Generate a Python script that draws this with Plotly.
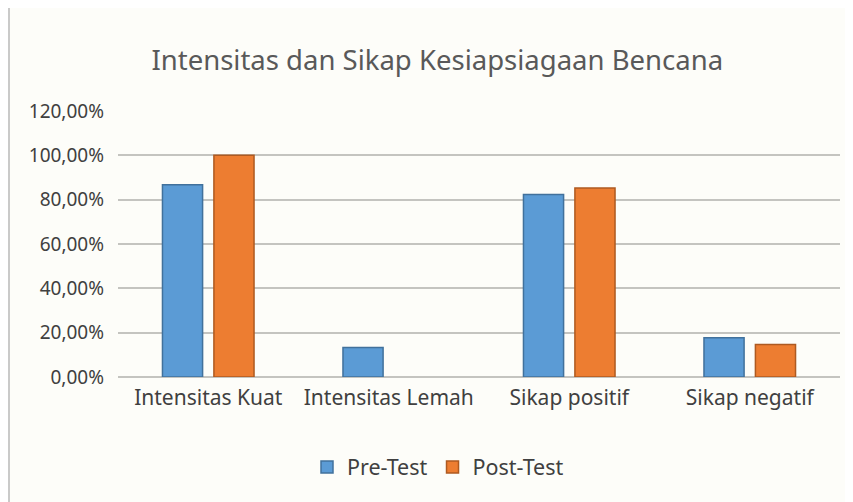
import plotly.graph_objects as go

categories = ["Intensitas Kuat", "Intensitas Lemah", "Sikap positif", "Sikap negatif"]
pre_test = [0.867, 0.133, 0.823, 0.177]
post_test = [1.0, 0.0, 0.853, 0.147]
y_ticks = [0, 0.2, 0.4, 0.6, 0.8, 1.0, 1.2]

W, H = 845, 494
L, R, T, B = 110, 13, 103, 125
pw, ph = W - L - R, H - T - B

fig = go.Figure()
fig.add_trace(go.Bar(name="Pre-Test", x=categories, y=pre_test,
                     marker=dict(color="#5b9bd5", line=dict(color="#41719c", width=1.5))))
fig.add_trace(go.Bar(name="Post-Test", x=categories, y=post_test,
                     marker=dict(color="#ed7d31",
                                 line=dict(color="#ae5a21",
                                           width=[1.5 if v > 0 else 0 for v in post_test]))))

font_family = "Noto Sans, Open Sans, DejaVu Sans, sans-serif"
fig.update_layout(
    width=W, height=H,
    separators=",.",
    paper_bgcolor="#fdfdf9",
    plot_bgcolor="#fdfdf9",
    barmode="group",
    bargap=0.43,
    bargroupgap=0.22,
    margin=dict(l=L, r=R, t=T, b=B),
    title=dict(text="Intensitas dan Sikap Kesiapsiagaan Bencana", xref="container", x=0.508,
               xanchor="center", yref="container", y=1 - 52 / H, yanchor="middle",
               font=dict(family=font_family, size=27.5, color="#595959")),
    font=dict(family=font_family, color="#404040"),
    legend=dict(orientation="h", x=(430 - L) / pw, xanchor="center",
                y=(ph - (459 - T)) / ph, yanchor="middle",
                font=dict(size=21.5, color="#404040"), itemwidth=30, traceorder="normal"),
    xaxis=dict(showgrid=False, showline=False, ticks="", tickfont=dict(size=21, color="#404040"),
               ticklabelstandoff=6),
    yaxis=dict(range=[0, 1.2], tickvals=y_ticks, tickformat=".2%",
               showgrid=True, gridcolor="#c4c4c0", gridwidth=2,
               zeroline=True, zerolinecolor="#c4c4c0", zerolinewidth=2,
               tickfont=dict(size=19, color="#404040"), ticklabelstandoff=13),
    shapes=[dict(type="line", xref="paper", yref="paper", x0=-(L - 1) / pw, x1=-(L - 1) / pw,
                 y0=-B / ph, y1=(ph + T) / ph,
                 line=dict(color="#b8b8b8", width=1.5))],
)

fig.write_html("out.html")
